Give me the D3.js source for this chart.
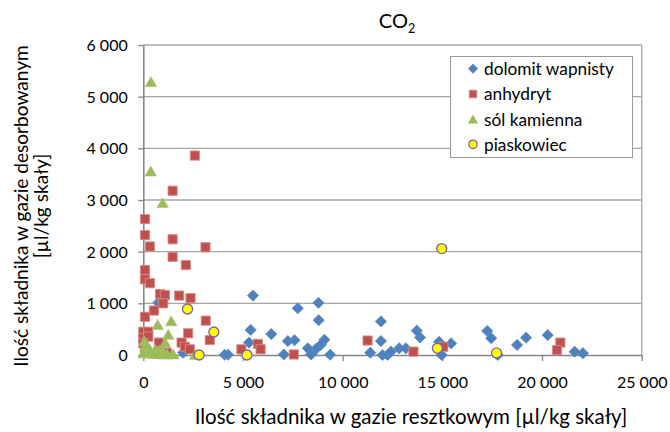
<!DOCTYPE html>
<html><head><meta charset="utf-8">
<script src="https://cdn.jsdelivr.net/npm/d3@7"></script>
<style>
body{margin:0;background:#fff}
svg{display:block}
text{font-family:Lato,"Open Sans",sans-serif;fill:#000}
</style></head>
<body><svg id="c" width="670" height="432"></svg>
<script>
// ---- data ----
const xTicks = [0, 5000, 10000, 15000, 20000, 25000];
const yTicks = [0, 1000, 2000, 3000, 4000, 5000, 6000];
const seriesNames = ["dolomit wapnisty", "anhydryt", "sól kamienna", "piaskowiec"];

const dolomit = [[750,1010],[5500,1150],[7750,905],[8785,1010],[8800,675],[5385,485],[6420,405],[5300,240],[7250,270],[7585,285],[9085,295],[8900,195],[8670,120],[8250,130],[2000,45],[4085,5],[4250,5],[7050,10],[8420,10],[9370,5],[11920,650],[11920,270],[13720,470],[13885,340],[11385,45],[12000,0],[12250,0],[12420,65],[12835,130],[13170,130],[14835,255],[14970,0],[15440,225],[17250,465],[17450,325],[17785,0],[18750,195],[19200,335],[20285,385],[21635,65],[22050,35]];
const anhydryt = [[2585,3860],[1470,3180],[85,2630],[85,2320],[335,2100],[1470,2240],[3120,2085],[1470,1900],[2135,1740],[85,1645],[85,1465],[335,1390],[835,1180],[1085,1160],[1800,1150],[1000,1000],[2370,1100],[85,740],[535,860],[3135,665],[0,450],[250,450],[0,325],[250,355],[2250,420],[3335,290],[1920,240],[785,240],[2085,160],[2335,110],[835,65],[1170,45],[85,110],[0,225],[5750,215],[5885,110],[4920,110],[7550,10],[11250,280],[13550,65],[15050,160],[20920,240],[20750,95]];
const solKamienna = [[385,5280],[370,3550],[970,2940],[720,580],[1400,650],[1250,390],[50,260],[1100,230],[100,150],[300,120],[600,100],[800,80],[1000,60],[0,30],[250,30],[500,20],[750,20],[1000,10],[1200,10],[1500,10],[2600,0]];
const piaskowiec = [[2220,890],[3540,445],[2800,0],[5200,0],[14750,130],[14970,2060],[17720,40]];

// ---- layout ----
const svg = d3.select("#c");
const L = 143.3, R = 641.7, T = 45, B = 355;
const x = d3.scaleLinear().domain([0, 25000]).range([L, R]);
const y = d3.scaleLinear().domain([0, 6000]).range([B, T]);
const fmt = d => d3.format(",")(d).replace(/,/g, " ");
// scale a text's font size so that its natural width equals target
function fitSize(sel, base, target) {
  sel.attr("font-size", base);
  const w = sel.node().getComputedTextLength();
  return w > 0 ? base * target / w : base;
}

// gridlines
svg.append("g").selectAll("line").data(yTicks.filter(d => d > 0)).join("line")
  .attr("x1", L).attr("x2", R).attr("y1", d => y(d)).attr("y2", d => y(d))
  .attr("stroke", "#a6a6a6").attr("stroke-width", 1.3);
// right border
svg.append("line").attr("x1", R).attr("x2", R).attr("y1", T).attr("y2", B)
  .attr("stroke", "#a6a6a6").attr("stroke-width", 1.3);

// axes
const gy = svg.append("g").attr("transform", `translate(${L},0)`)
  .call(d3.axisLeft(y).tickValues(yTicks).tickFormat(fmt).tickSize(5).tickSizeOuter(0));
const gx = svg.append("g").attr("transform", `translate(0,${B})`)
  .call(d3.axisBottom(x).tickValues(xTicks).tickFormat(fmt).tickSize(6).tickSizeOuter(0));
[gy, gx].forEach(g => {
  g.select(".domain").attr("stroke", "#868686").attr("stroke-width", 1.6);
  g.selectAll(".tick line").attr("stroke", "#868686").attr("stroke-width", 1.3);
  g.selectAll("text").attr("font-size", 16).attr("font-family", "Lato").attr("fill", "#000");
});
gy.selectAll(".tick text").attr("x", -15.6).attr("dy", "0.34em");
gx.selectAll(".tick text").attr("y", 33).attr("dy", 0);

// markers
const shapes = {
  diamond: s => `M0,${-s}L${s},0L0,${s}L${-s},0Z`,
  square: s => `M${-s},${-s}H${s}V${s}H${-s}Z`,
  triangle: s => `M0,${-s*1.05}L${s*1.1},${s*0.85}L${-s*1.1},${s*0.85}Z`
};
const styles = [
  {data: dolomit, path: shapes.diamond(5.6), fill: "#4F81BD", stroke: "#5b8cc6", sw: 0.8},
  {data: anhydryt, path: shapes.square(4.6), fill: "#C0504D", stroke: "#d98c8a", sw: 0.9},
  {data: solKamienna, path: shapes.triangle(5.2), fill: "#9BBB59", stroke: "#a8c46c", sw: 0.6},
  {data: piaskowiec, circle: 5, fill: "#FFFF00", stroke: "#7F5FA8", sw: 1.3}
];
styles.forEach(st => {
  const g = svg.append("g");
  if (st.circle) {
    g.selectAll("circle").data(st.data).join("circle")
      .attr("cx", d => x(d[0])).attr("cy", d => y(d[1])).attr("r", st.circle)
      .attr("fill", st.fill).attr("stroke", st.stroke).attr("stroke-width", st.sw);
  } else {
    g.selectAll("path").data(st.data).join("path")
      .attr("d", st.path).attr("transform", d => `translate(${x(d[0])},${y(d[1])})`)
      .attr("fill", st.fill).attr("stroke", st.stroke).attr("stroke-width", st.sw);
  }
});

// title
const title = svg.append("text").attr("x", 397).attr("y", 28).attr("text-anchor", "middle")
  .attr("font-size", 20);
title.append("tspan").text("CO");
title.append("tspan").attr("font-size", 12.5).attr("dy", 5).text("2");

// axis titles
const xt = svg.append("text").attr("x", 411).attr("y", 424).attr("text-anchor", "middle")
  .text("Ilość składnika w gazie resztkowym [µl/kg skały]");
xt.attr("font-size", Math.min(fitSize(xt, 18, 436), 20.5));
const yt = svg.append("g").attr("transform", "translate(28,206) rotate(-90)");
const yt1 = yt.append("text").attr("x", 0).attr("y", 0).attr("text-anchor", "middle")
  .text("Ilość składnika w gazie desorbowanym");
const yfs = Math.min(fitSize(yt1, 18, 322), 20);
yt1.attr("font-size", yfs);
yt.append("text").attr("x", 0).attr("y", 20).attr("text-anchor", "middle")
  .attr("font-size", yfs).text("[µl/kg skały]");

// legend
const lg = svg.append("g");
lg.append("rect").attr("x", 450.5).attr("y", 56.5).attr("width", 182).attr("height", 101)
  .attr("fill", "#fff").attr("stroke", "#9a9a9a").attr("stroke-width", 1);
const ly = [68.7, 94, 119.5, 144.3];
const lshapes = [shapes.diamond(4.6), shapes.square(3.8), shapes.triangle(4.4)];
let lfs = 17;
seriesNames.forEach((n, i) => {
  const st = styles[i];
  if (i < 3) {
    lg.append("path").attr("d", lshapes[i]).attr("transform", `translate(473,${ly[i]})`)
      .attr("fill", st.fill).attr("stroke", st.stroke).attr("stroke-width", st.sw);
  } else {
    lg.append("circle").attr("cx", 473).attr("cy", ly[i]).attr("r", 4.2)
      .attr("fill", st.fill).attr("stroke", st.stroke).attr("stroke-width", 1.3);
  }
  const t = lg.append("text").attr("class", "lt").attr("x", 484).attr("y", ly[i]).attr("dy", "0.36em").text(n);
  if (i === 0) lfs = Math.min(fitSize(t, 17, 130), 17.5);
});
lg.selectAll(".lt").attr("font-size", lfs);
</script></body></html>
